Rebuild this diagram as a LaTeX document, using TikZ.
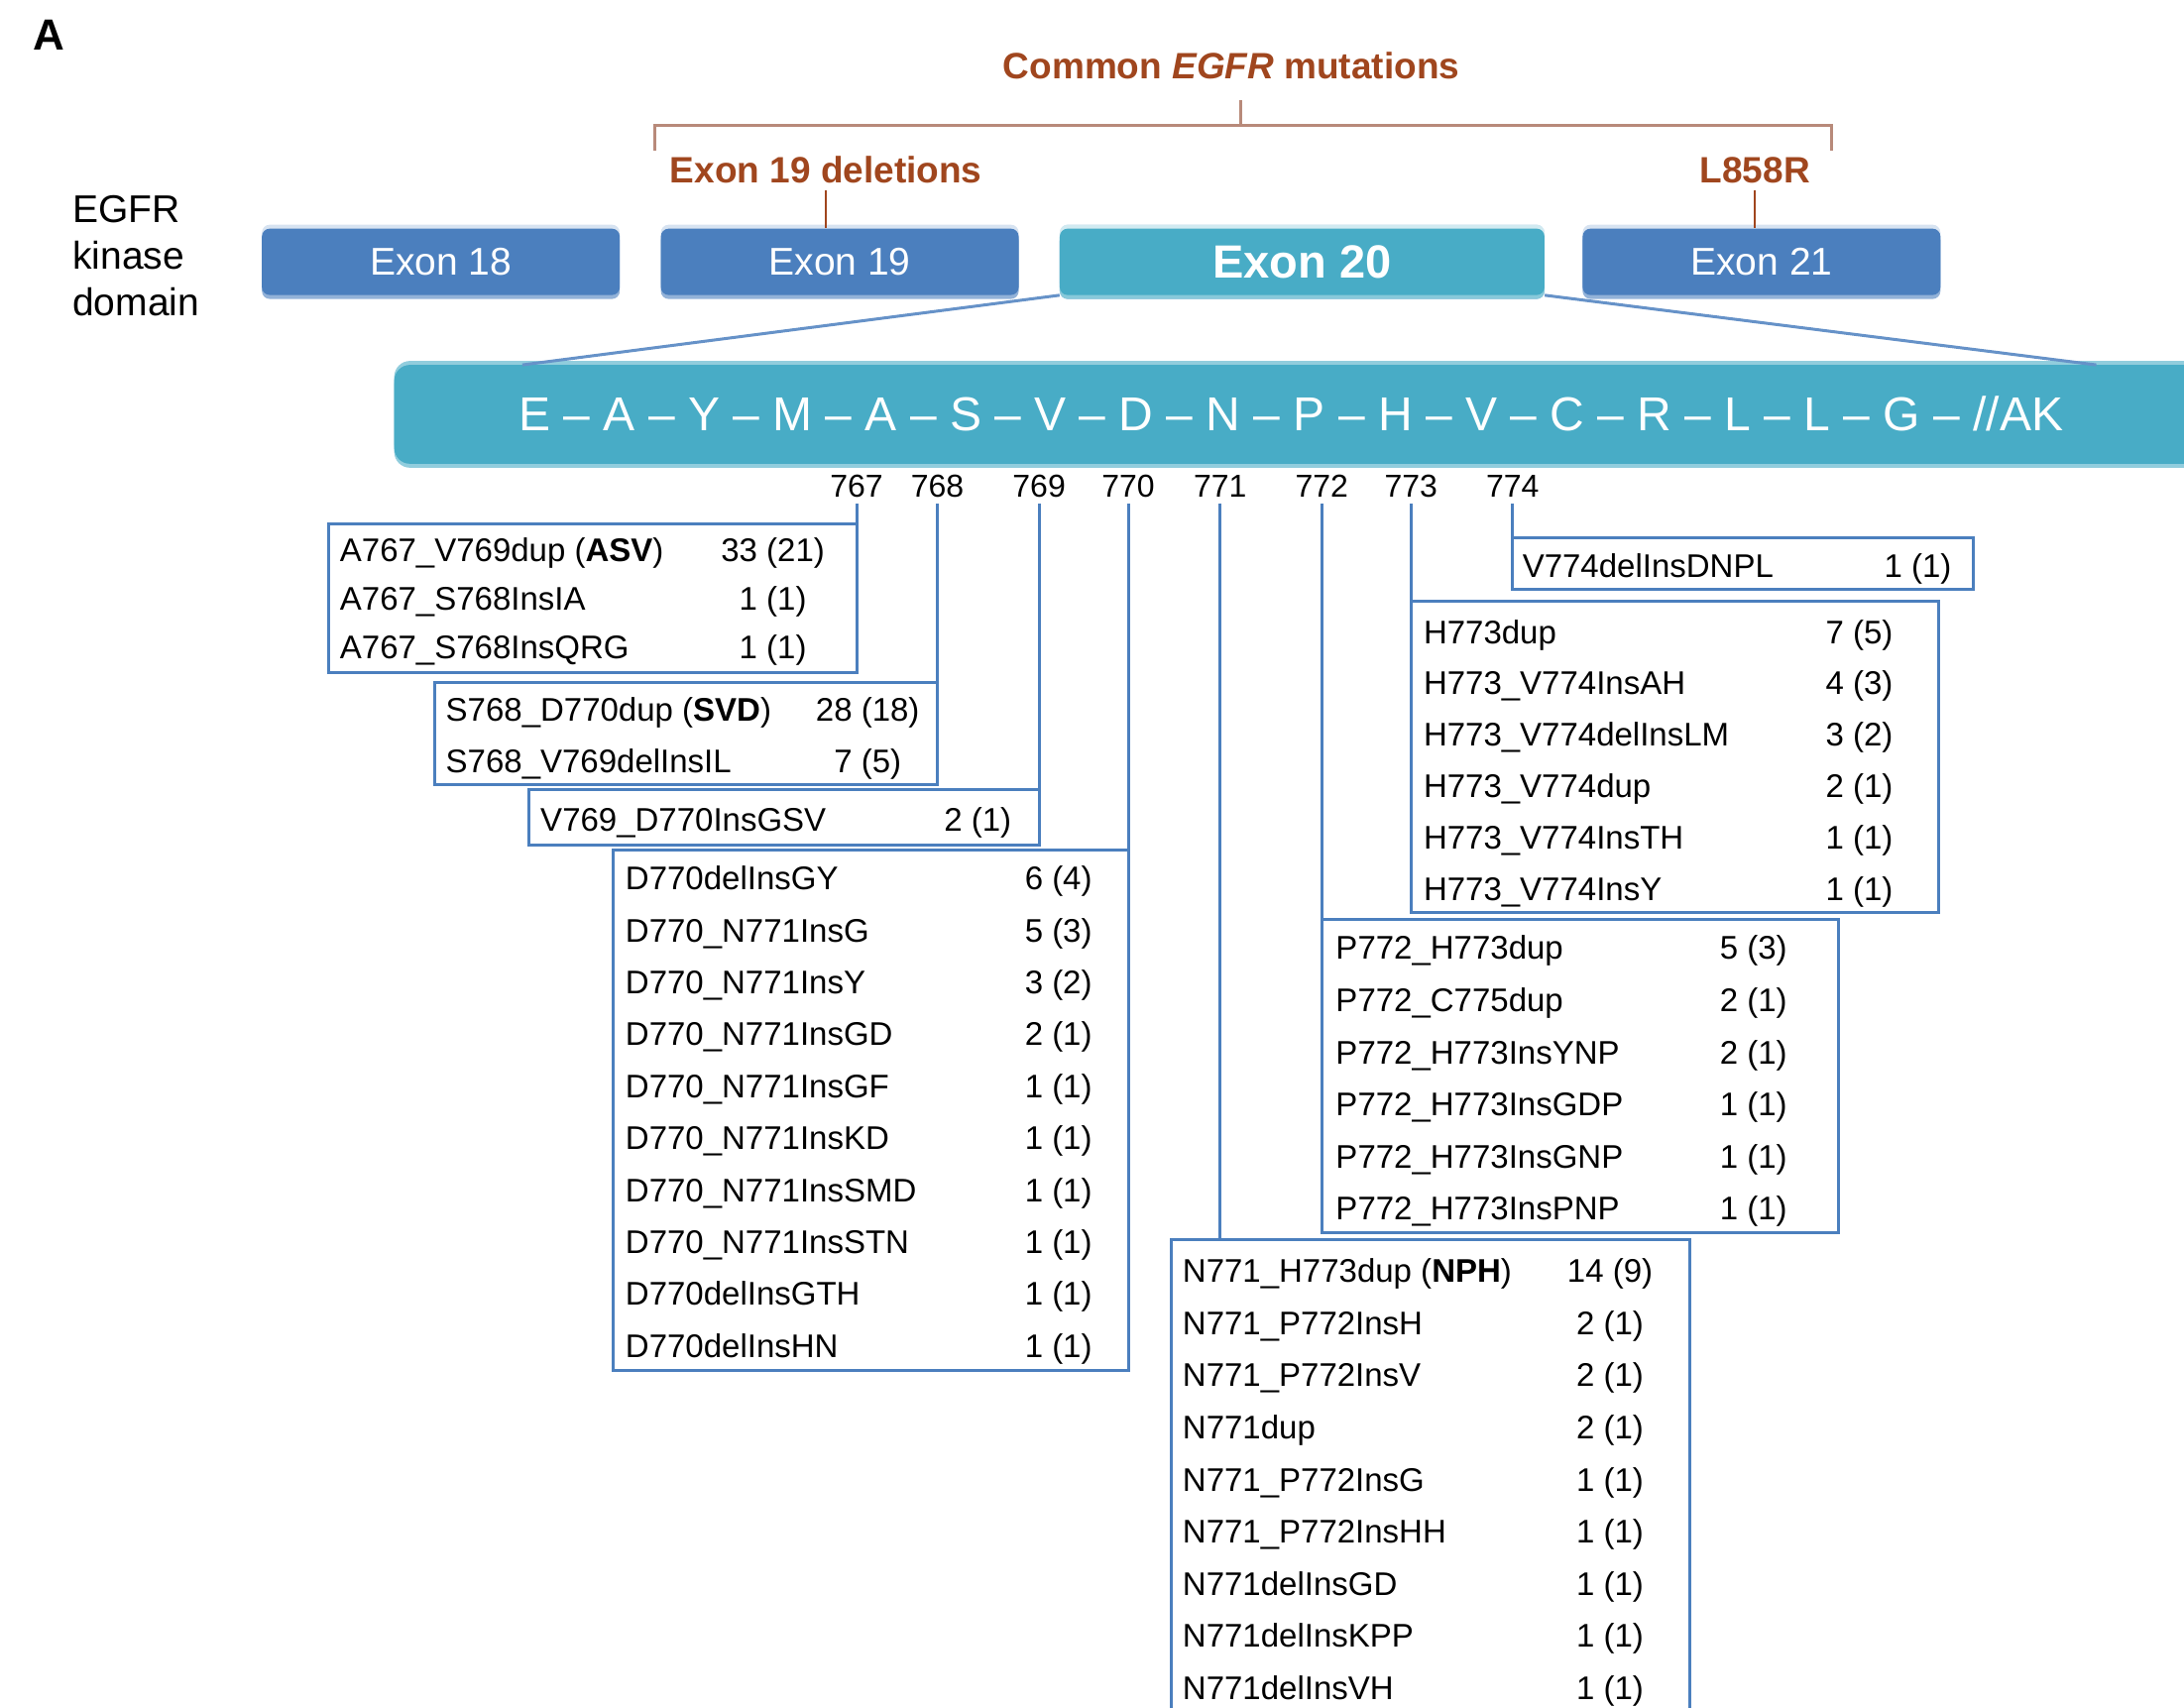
\documentclass[tikz,border=0pt]{standalone}
\usepackage{fontspec}
\setmainfont{Liberation Sans}
\usetikzlibrary{positioning,fit,calc}
\definecolor{exblue}{HTML}{4B7FBE}
\definecolor{exteal}{HTML}{48ACC6}
\definecolor{mutbrown}{HTML}{A0461E}
\definecolor{bracebrown}{HTML}{B88A7A}

\begin{document}
\begin{tikzpicture}[x=1.405pt,y=-1.405pt,
    exon/.style={rounded corners=8pt, fill=exblue, text=white, inner sep=0pt,
      minimum width=361pt, minimum height=67pt, font=\fontsize{39}{45}\selectfont,
      preaction={fill=exblue!22!white, transform canvas={yshift=4pt}},
      preaction={fill=exblue!60!white, transform canvas={yshift=-4pt}}},
    mutlabel/.style={text=mutbrown, inner sep=0pt, font=\bfseries\fontsize{37}{44}\selectfont},
    seqbar/.style={fill=exteal, rounded corners=16pt, inner sep=0pt,
      preaction={fill=exteal!60!white, transform canvas={yshift=4pt}},
      preaction={fill=exteal!60!white, transform canvas={yshift=-4pt}}},
    mutbox/.style={draw=exblue, line width=3pt, inner sep=0pt},
    mutrow/.style={inner sep=0pt, font=\fontsize{33}{40}\selectfont},
    posnum/.style={inner sep=2pt, font=\fontsize{32}{38}\selectfont},
    link/.style={draw=exblue, line width=3pt},
  ]
  \useasboundingbox (0,0) rectangle (1568,1226);

  % panel label and domain label
  \node[font=\bfseries\fontsize{44}{50}\selectfont, inner sep=0pt] (panel) at (35,25) {A};
  \node[font=\fontsize{39}{47}\selectfont, align=left, anchor=west, inner sep=0pt] (domain) at (52,184) {EGFR\\kinase\\domain};

  % exons
  \node[exon] (ex18) at (316.5,188) {Exon 18};
  \node[exon, right=41pt of ex18] (ex19) {Exon 19};
  \node[exon, fill=exteal, minimum width=489pt, font=\bfseries\fontsize{47}{54}\selectfont,
    preaction={fill=exteal!25!white, transform canvas={yshift=4pt}},
    preaction={fill=exteal!65!white, transform canvas={yshift=-4pt}},
    right=41pt of ex19] (ex20) {Exon 20};
  \node[exon, right=38pt of ex20] (ex21) {Exon 21};

  % common mutations
  \node[mutlabel] (common) at (884,47) {Common \textit{EGFR} mutations};
  \node[mutlabel] (del19) at (593,122) {Exon 19 deletions};
  \node[mutlabel] (l858r) at (1260,122) {L858R};
  \draw[bracebrown, line width=3pt] (470,108) |- (1315,90) -- (1315,108);
  \draw[bracebrown, line width=3pt] (891,90) -- (891,72);
  \draw[mutbrown, line width=2pt] (del19.south) ++(0,5) -- (del19.south |- ex19.north);
  \draw[mutbrown, line width=2pt] (l858r.south) ++(0,5) -- (l858r.south |- ex21.north);

  % exon 20 sequence
  \node[seqbar, fit={(283,262) (1640,333)}] (bar) {};
  \coordinate (barL) at (375,262);
  \coordinate (barR) at (1505,262);
  \draw[exblue!85, line width=3pt] (ex20.south west) -- (barL);
  \draw[exblue!85, line width=3pt] (ex20.south east) -- (barR);
  \node[text=white, inner sep=0pt, font=\fontsize{48}{56}\selectfont] (seq) at (927,297)
    {E -- A -- Y -- M -- A -- S -- V -- D -- N -- P -- H -- V -- C -- R -- L -- L -- G -- //AK};

  % codon positions
  \foreach \p/\x in {767/615, 768/673, 769/746, 770/810, 771/876, 772/949, 773/1013, 774/1086}
    \node[posnum] (n\p) at (\x,349) {\p};

  % insertion boxes
  \node[mutbox, fit={(236,376) (615,483)}] (b767) {};
  \node[mutbox, fit={(312,490) (673,563)}] (b768) {};
  \node[mutbox, fit={(380,567) (746,607)}] (b769) {};
  \node[mutbox, fit={(440,610) (810,984)}] (b770) {};
  \node[mutbox, fit={(841,890) (1213,1250)}] (b771) {};
  \node[mutbox, fit={(949,660) (1320,885)}] (b772) {};
  \node[mutbox, fit={(1013,432) (1392,655)}] (b773) {};
  \node[mutbox, fit={(1086,386) (1417,423)}] (b774) {};

  \foreach \p in {767,768,769,770,771,772,773,774}
    \draw[link, shorten <=4pt] (n\p.south) -- (n\p.south |- b\p.north);

  \foreach \mut/\num [count=\i from 0] in {{A767\_V769dup (\textbf{ASV})}/{33 (21)},
      {A767\_S768InsIA}/{1 (1)}, {A767\_S768InsQRG}/{1 (1)}}{
    \node[mutrow, anchor=base west] (r767-\i) at ($(b767.north west)+(9,28+35*\i)$) {\mut};
    \node[mutrow, anchor=base] (c767-\i) at ($(b767.north west)+(320,28+35*\i)$) {\num};
  }
  \foreach \mut/\num [count=\i from 0] in {{S768\_D770dup (\textbf{SVD})}/{28 (18)},
      {S768\_V769delInsIL}/{7 (5)}}{
    \node[mutrow, anchor=base west] (r768-\i) at ($(b768.north west)+(9,29+37*\i)$) {\mut};
    \node[mutrow, anchor=base] (c768-\i) at ($(b768.north west)+(312,29+37*\i)$) {\num};
  }
  \foreach \mut/\num [count=\i from 0] in {{V769\_D770InsGSV}/{2 (1)}}{
    \node[mutrow, anchor=base west] (r769-\i) at ($(b769.north west)+(9,31+37*\i)$) {\mut};
    \node[mutrow, anchor=base] (c769-\i) at ($(b769.north west)+(323,31+37*\i)$) {\num};
  }
  \foreach \mut/\num [count=\i from 0] in {{D770delInsGY}/{6 (4)}, {D770\_N771InsG}/{5 (3)},
      {D770\_N771InsY}/{3 (2)}, {D770\_N771InsGD}/{2 (1)}, {D770\_N771InsGF}/{1 (1)},
      {D770\_N771InsKD}/{1 (1)}, {D770\_N771InsSMD}/{1 (1)}, {D770\_N771InsSTN}/{1 (1)},
      {D770delInsGTH}/{1 (1)}, {D770delInsHN}/{1 (1)}}{
    \node[mutrow, anchor=base west] (r770-\i) at ($(b770.north west)+(10,30+37.3*\i)$) {\mut};
    \node[mutrow, anchor=base] (c770-\i) at ($(b770.north west)+(321,30+37.3*\i)$) {\num};
  }
  \foreach \mut/\num [count=\i from 0] in {{N771\_H773dup (\textbf{NPH})}/{14 (9)},
      {N771\_P772InsH}/{2 (1)}, {N771\_P772InsV}/{2 (1)}, {N771dup}/{2 (1)},
      {N771\_P772InsG}/{1 (1)}, {N771\_P772InsHH}/{1 (1)}, {N771delInsGD}/{1 (1)},
      {N771delInsKPP}/{1 (1)}, {N771delInsVH}/{1 (1)}}{
    \node[mutrow, anchor=base west] (r771-\i) at ($(b771.north west)+(9,32+37.4*\i)$) {\mut};
    \node[mutrow, anchor=base] (c771-\i) at ($(b771.north west)+(316,32+37.4*\i)$) {\num};
  }
  \foreach \mut/\num [count=\i from 0] in {{P772\_H773dup}/{5 (3)}, {P772\_C775dup}/{2 (1)},
      {P772\_H773InsYNP}/{2 (1)}, {P772\_H773InsGDP}/{1 (1)}, {P772\_H773InsGNP}/{1 (1)},
      {P772\_H773InsPNP}/{1 (1)}}{
    \node[mutrow, anchor=base west] (r772-\i) at ($(b772.north west)+(11,30+37.4*\i)$) {\mut};
    \node[mutrow, anchor=base] (c772-\i) at ($(b772.north west)+(311,30+37.4*\i)$) {\num};
  }
  \foreach \mut/\num [count=\i from 0] in {{H773dup}/{7 (5)}, {H773\_V774InsAH}/{4 (3)},
      {H773\_V774delInsLM}/{3 (2)}, {H773\_V774dup}/{2 (1)}, {H773\_V774InsTH}/{1 (1)},
      {H773\_V774InsY}/{1 (1)}}{
    \node[mutrow, anchor=base west] (r773-\i) at ($(b773.north west)+(10,31+37*\i)$) {\mut};
    \node[mutrow, anchor=base] (c773-\i) at ($(b773.north west)+(323,31+37*\i)$) {\num};
  }
  \foreach \mut/\num [count=\i from 0] in {{V774delInsDNPL}/{1 (1)}}{
    \node[mutrow, anchor=base west] (r774-\i) at ($(b774.north west)+(8,30+37*\i)$) {\mut};
    \node[mutrow, anchor=base] (c774-\i) at ($(b774.north west)+(292,30+37*\i)$) {\num};
  }
\end{tikzpicture}
\end{document}
